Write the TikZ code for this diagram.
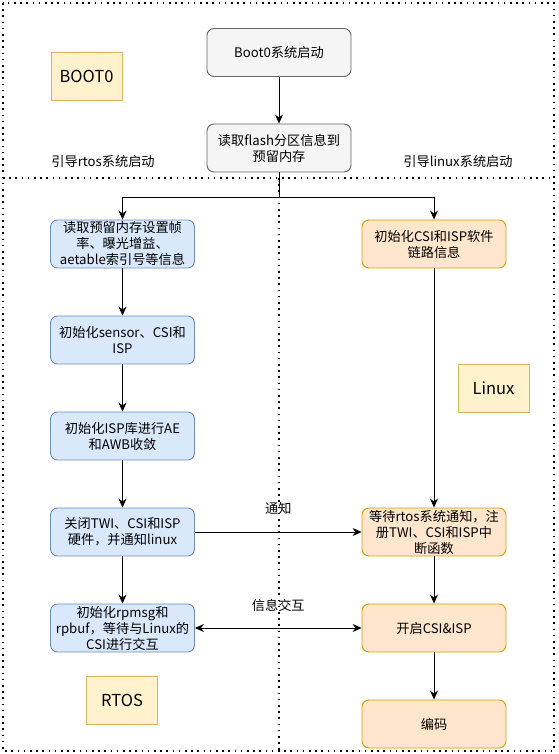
\documentclass[tikz,border=0pt]{standalone}
\usepackage{fontspec}
\setmainfont{Noto Sans CJK SC}
\usepackage{tikz}
\usetikzlibrary{arrows.meta}
\definecolor{grayfill}{HTML}{F5F5F5}
\definecolor{grayline}{HTML}{666666}
\definecolor{bluefill}{HTML}{DAE8FC}
\definecolor{blueline}{HTML}{6C8EBF}
\definecolor{orangefill}{HTML}{FFE6CC}
\definecolor{orangeline}{HTML}{D79B00}
\definecolor{tagfill}{HTML}{FFF2CC}
\definecolor{tagline}{HTML}{D6B656}

\begin{document}
\begin{tikzpicture}[
    x=1pt,y=-1pt,
    font=\fontsize{13.2}{16}\selectfont,
    box/.style={draw,rounded corners=7pt,minimum width=144pt,minimum height=48pt,align=center,inner sep=1pt,line width=.9pt},
    graybox/.style={box,fill=grayfill,draw=grayline},
    rtosbox/.style={box,fill=bluefill,draw=blueline},
    linuxbox/.style={box,fill=orangefill,draw=orangeline},
    tag/.style={draw=tagline,fill=tagfill,minimum width=71pt,minimum height=48pt,font=\fontsize{16.5}{19}\selectfont,line width=.9pt},
    part/.style={line width=1.6pt,dash pattern=on 1.6pt off 4.6pt},
    arr/.style={-{Stealth[length=9pt,width=8pt]},line width=.9pt},
    biarr/.style={{Stealth[length=9pt,width=8pt]}-{Stealth[length=9pt,width=8pt]},line width=.9pt}
    ]
    \useasboundingbox (0,0) rectangle (558,754);
    % dotted frames
    \draw[part] (3,3) rectangle (554,751);
    \draw[part] (3,178) -- (554,178);
    \draw[part] (279,178) -- (279,751);
    % boot0 part
    \node[graybox] (boot) at (279,52.5) {Boot0系统启动};
    \node[graybox] (flash) at (279,148) {读取flash分区信息到\\预留内存};
    \node[tag] (tboot) at (86.5,76) {BOOT0};
    \node (lrtos) at (103,161) {引导rtos系统启动};
    \node (llinux) at (458,161) {引导linux系统启动};
    % rtos column
    \node[rtosbox] (read) at (122.5,244) {读取预留内存设置帧\\率、曝光增益、\\aetable索引号等信息};
    \node[rtosbox] (sensor) at (122.5,340) {初始化sensor、CSI和\\ISP};
    \node[rtosbox] (ispl) at (122.5,436) {初始化ISP库进行AE\\和AWB收敛};
    \node[rtosbox] (close) at (122.5,532) {关闭TWI、CSI和ISP\\硬件，并通知linux};
    \node[rtosbox] (rpmsg) at (122.5,628) {初始化rpmsg和\\rpbuf，等待与Linux的\\CSI进行交互};
    \node[tag] (trtos) at (122,700) {RTOS};
    % linux column
    \node[linuxbox] (link) at (434,244) {初始化CSI和ISP软件\\链路信息};
    \node[linuxbox] (wait) at (434,532) {等待rtos系统通知，注\\册TWI、CSI和ISP中\\断函数};
    \node[linuxbox] (open) at (434,628) {开启CSI\&ISP};
    \node[linuxbox] (enc) at (434,724) {编码};
    \node[tag] (tlinux) at (493.5,388) {Linux};
    % connectors
    \coordinate (split) at (279,197);
    \draw[arr] (boot) -- (flash);
    \draw[line width=.9pt] (flash) -- (split);
    \draw[arr] (split) -| (read);
    \draw[arr] (split) -| (link);
    \draw[arr] (read) -- (sensor);
    \draw[arr] (sensor) -- (ispl);
    \draw[arr] (ispl) -- (close);
    \draw[arr] (close) -- (rpmsg);
    \draw[arr] (link) -- (wait);
    \draw[arr] (wait) -- (open);
    \draw[arr] (open) -- (enc);
    \draw[arr] (close) -- node[above=14pt] {通知} (wait);
    \draw[biarr] (rpmsg) -- node[above=13pt] {信息交互} (open);
\end{tikzpicture}
\end{document}
